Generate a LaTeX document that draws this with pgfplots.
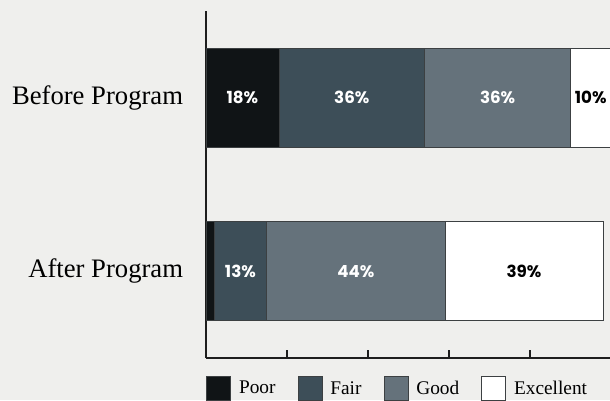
\documentclass[border=0pt]{standalone}
\usepackage{pgfplots}
\pgfplotsset{compat=1.18}
\usepackage{fontspec}
\setmainfont{Liberation Serif}
\newfontfamily\pop{Poppins}
\definecolor{bg}{RGB}{239,239,237}
\definecolor{cpoor}{RGB}{16,20,22}
\definecolor{cfair}{RGB}{61,78,88}
\definecolor{cgood}{RGB}{101,114,123}
\definecolor{cexc}{RGB}{255,255,255}
\definecolor{cedge}{RGB}{60,64,66}
\definecolor{caxis}{RGB}{30,30,30}

\begin{document}
\begin{tikzpicture}
\path[use as bounding box, fill=bg] (0,0) rectangle (457.5pt,300pt);
\clip (0,0) rectangle (457.5pt,300pt);
\begin{axis}[
    at={(154.5pt,31.5pt)},
    anchor=south west,
    scale only axis,
    width=303.75pt,
    height=260.25pt,
    xbar stacked,
    bar width=74.25pt,
    xmin=0, xmax=100,
    ymin=-0.5, ymax=1.5,
    axis x line*=bottom,
    axis y line*=left,
    axis line style={caxis, line width=1pt},
    xtick={20,40,60,80},
    xticklabels={},
    tick align=inside,
    major tick length=6pt,
    x tick style={caxis, line width=0.8pt},
    ytick={0,1},
    yticklabels={After Program, Before Program},
    y tick style={draw=none},
    yticklabel style={font=\fontsize{20}{22}\selectfont, inner sep=0pt, xshift=-17pt, text=black},
    point meta=explicit symbolic,
    nodes near coords,
    nodes near coords align=center,
    every node near coord/.append style={font=\pop\bfseries\fontsize{12.5}{14}\selectfont, anchor=center},
    legend columns=4,
    legend image code/.code={\draw[#1, draw=cedge, line width=0.6pt] (0pt,-9pt) rectangle (18pt,9pt);},
    legend style={
        at={(0,-13.5pt)}, anchor=north west,
        draw=none, fill=none, inner sep=0pt,
        font=\fontsize{14.5}{16}\selectfont,
        nodes={inner sep=0pt, anchor=west},
        /tikz/every odd column/.append style={column sep=6pt},
        /tikz/every even column/.append style={column sep=16.5pt},
    },
]
\addplot[fill=cpoor, draw=cedge, line width=0.6pt, every node near coord/.append style={text=white}]
    coordinates {(2,0) [\mbox{}] (18,1) [18\%]};
\addplot[fill=cfair, draw=cedge, line width=0.6pt, every node near coord/.append style={text=white}]
    coordinates {(13,0) [13\%] (36,1) [36\%]};
\addplot[fill=cgood, draw=cedge, line width=0.6pt, every node near coord/.append style={text=white}]
    coordinates {(44,0) [44\%] (36,1) [36\%]};
\addplot[fill=cexc, draw=cedge, line width=0.6pt, every node near coord/.append style={text=black}]
    coordinates {(39,0) [39\%] (10,1) [10\%]};
\legend{Poor, Fair, Good, Excellent}
\end{axis}
\end{tikzpicture}
\end{document}
